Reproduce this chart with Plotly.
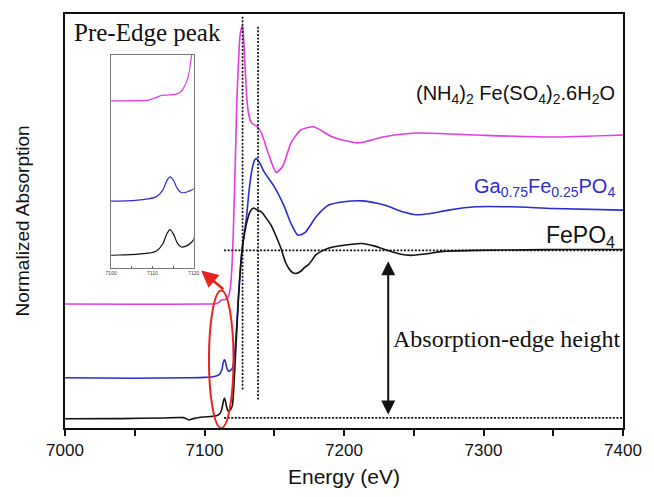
import plotly.graph_objects as go

# ---------------- data ----------------
# FePO4 (normalized absorption, offset 0)
E_fepo4 = [7000, 7040, 7070, 7085, 7089, 7092, 7096, 7100, 7106, 7109, 7111, 7112.5,
           7113.5, 7114.3, 7115.2, 7116, 7117, 7118, 7119, 7120, 7121, 7122.5, 7124.4,
           7126.8, 7128.9, 7131, 7133, 7135, 7137, 7140.8, 7144, 7147.9, 7151, 7154.9,
           7158, 7160.6, 7163, 7165.5, 7169, 7172, 7174.6, 7177, 7179.6, 7184, 7188.7,
           7200, 7212.7, 7222, 7231, 7240, 7248, 7258, 7271, 7294, 7330, 7360, 7400]
mu_fepo4 = [-0.005, -0.004, 0.0, 0.002, -0.012, -0.004, 0.003, 0.006, 0.01, 0.015, 0.025, 0.055,
            0.1, 0.118, 0.095, 0.06, 0.042, 0.045, 0.055, 0.075, 0.18, 0.42, 0.72,
            0.99, 1.11, 1.19, 1.235, 1.253, 1.245, 1.229, 1.195, 1.147, 1.09, 1.01,
            0.93, 0.89, 0.868, 0.862, 0.875, 0.9, 0.915, 0.94, 0.971, 0.995, 1.012,
            1.03, 1.041, 1.025, 1.0, 0.978, 0.97, 0.978, 0.994, 1.0, 1.003, 1.005, 1.005]

# Ga0.75Fe0.25PO4 (normalized absorption)
E_gafe = [7000, 7050, 7090, 7100, 7106, 7109, 7111, 7112.5, 7113.5, 7114.3, 7115.2, 7116,
          7117, 7118, 7119, 7120, 7121, 7122, 7123, 7124, 7125, 7127, 7130, 7132, 7134,
          7136, 7137, 7139, 7143, 7150, 7157, 7162, 7167, 7172, 7180, 7189, 7200, 7213,
          7229, 7242, 7252, 7262, 7275, 7294, 7320, 7350, 7400]
mu_gafe = [0.0, -0.003, 0.0, 0.002, 0.006, 0.012, 0.022, 0.05, 0.092, 0.108, 0.09, 0.058,
           0.04, 0.04, 0.047, 0.056, 0.1, 0.18, 0.3, 0.44, 0.57, 0.77, 0.95, 1.12, 1.24,
           1.3, 1.307, 1.29, 1.225, 1.14, 1.025, 0.92, 0.85, 0.865, 0.96, 1.03, 1.05, 1.055,
           1.03, 0.99, 0.972, 0.98, 1.0, 1.02, 1.02, 1.01, 1.0]

# (NH4)2Fe(SO4)2.6H2O (normalized absorption)
E_mohr = [7000, 7050, 7100, 7109, 7111, 7112.2, 7113.5, 7115.4, 7116.5, 7117.4, 7118.6,
          7119.4, 7120, 7120.9, 7122, 7123.2, 7124.4, 7125.6, 7127.3, 7129.1, 7130.3,
          7131.5, 7133.8, 7137.3, 7140.8, 7145.6, 7151.4, 7156.1, 7162, 7169, 7178.2,
          7191.3, 7209.9, 7228.9, 7252, 7294, 7349, 7400]
mu_mohr = [0.0, -0.002, 0.0, 0.003, 0.015, 0.024, 0.025, 0.028, 0.035, 0.051, 0.1,
           0.185, 0.28, 0.5, 0.82, 1.214, 1.45, 1.61, 1.661, 1.41, 1.234,
           1.138, 1.079, 1.061, 1.02, 0.902, 0.785, 0.822, 0.961, 1.038, 1.057,
           0.998, 0.961, 0.998, 1.02, 1.008, 0.996, 1.008]

# vertical offsets of the stacked spectra
offsets = {"FePO4": 0.0, "GaFe": 0.24, "Mohr": 0.68}

# reference lines
edge_E = [7127.3, 7138.4]            # vertical dotted lines (eV)
edge_span = [[0.17, 2.40], [0.11, 2.335]]
level_E = [7114, 7400]               # horizontal dotted lines span (eV)
levels = [0.0, 1.0]                  # edge step: pre-edge and post-edge level
edge_height_E = 7231.7               # position of the edge-height arrow

x_ticks = [7000, 7100, 7200, 7300, 7400]
inset_ticks = [7100, 7110, 7120]

# ---------------- styles ----------------
PINK = "#e23ce2"
BLUE = "#2b2bd6"
BLACK = "#111111"
RED = "#e8241e"

fig = go.Figure()

series = [
    (E_mohr, mu_mohr, offsets["Mohr"], PINK),
    (E_gafe, mu_gafe, offsets["GaFe"], BLUE),
    (E_fepo4, mu_fepo4, offsets["FePO4"], BLACK),
]

for E, mu, off, col in series:
    y = [v + off for v in mu]
    fig.add_trace(go.Scatter(x=E, y=y, mode="lines", line=dict(color=col, width=1.6, shape="spline", smoothing=0.6),
                             showlegend=False, hoverinfo="skip"))
    # inset (zoom of the pre-edge region)
    fig.add_trace(go.Scatter(x=E, y=y, mode="lines", xaxis="x2", yaxis="y2",
                             line=dict(color=col, width=1.2, shape="spline", smoothing=0.6),
                             showlegend=False, hoverinfo="skip"))

# dotted reference lines
for xe, (y0, y1) in zip(edge_E, edge_span):
    fig.add_trace(go.Scatter(x=[xe, xe], y=[y0, y1], mode="lines",
                             line=dict(color=BLACK, width=1.7, dash="2px,1.6px"),
                             showlegend=False, hoverinfo="skip"))
for lv in levels:
    fig.add_trace(go.Scatter(x=level_E, y=[lv, lv], mode="lines",
                             line=dict(color=BLACK, width=1.7, dash="2px,1.6px"),
                             showlegend=False, hoverinfo="skip"))

# red ellipse around the pre-edge peaks
fig.add_shape(type="circle", xref="x", yref="y", x0=7103.2, x1=7120.8, y0=-0.06, y1=0.76,
              line=dict(color=RED, width=2))

annotations = [
    # red arrow to the inset
    dict(x=7097.6, y=0.88, ax=7114.6, ay=0.76, xref="x", yref="y", axref="x", ayref="y",
         text="", showarrow=True, arrowhead=2, arrowsize=1.3, arrowwidth=2.6, arrowcolor=RED,
         standoff=0, startstandoff=0),
    # double arrow: absorption-edge height
    dict(x=edge_height_E, y=levels[1] - 0.065, ax=edge_height_E, ay=levels[0] + 0.012,
         xref="x", yref="y", axref="x", ayref="y", text="", showarrow=True,
         arrowhead=2, startarrowhead=2, arrowside="end+start", arrowsize=1.4, startarrowsize=1.4,
         arrowwidth=2, arrowcolor=BLACK, standoff=0, startstandoff=0),
    dict(x=0.0123, y=0.955, xref="paper", yref="paper", xanchor="left", yanchor="middle",
         text="Pre-Edge peak", showarrow=False,
         font=dict(family="Liberation Serif", size=25, color=BLACK)),
    dict(x=0.585, y=0.214, xref="paper", yref="paper", xanchor="left", yanchor="middle",
         text="Absorption-edge height", showarrow=False,
         font=dict(family="Liberation Serif", size=24, color=BLACK)),
    dict(x=0.989, y=0.805, xref="paper", yref="paper", xanchor="right", yanchor="middle",
         text="(NH<sub>4</sub>)<sub>2</sub> Fe(SO<sub>4</sub>)<sub>2</sub>.6H<sub>2</sub>O",
         showarrow=False, font=dict(family="Liberation Sans", size=20, color=BLACK)),
    dict(x=0.989, y=0.58, xref="paper", yref="paper", xanchor="right", yanchor="middle",
         text="Ga<sub>0.75</sub>Fe<sub>0.25</sub>PO<sub>4</sub>",
         showarrow=False, font=dict(family="Liberation Sans", size=20, color=BLUE)),
    dict(x=0.989, y=0.462, xref="paper", yref="paper", xanchor="right", yanchor="middle",
         text="FePO<sub>4</sub>",
         showarrow=False, font=dict(family="Liberation Sans", size=23, color=BLACK)),
]

fig.update_layout(
    width=654, height=497,
    margin=dict(l=65, r=20, t=12, b=65),
    paper_bgcolor="white", plot_bgcolor="white",
    font=dict(family="Liberation Sans", color=BLACK),
    annotations=annotations,
    xaxis=dict(range=[7000, 7400], tickvals=x_ticks, ticks="outside", ticklen=6, tickwidth=1.5,
               tickcolor=BLACK, showline=True, linecolor=BLACK, linewidth=2, mirror=True,
               showgrid=False, zeroline=False, tickfont=dict(size=17), ticklabeloverflow="allow",
               minor=dict(dtick=50, ticks="outside", ticklen=6, tickwidth=1.5, tickcolor=BLACK),
               title=dict(text="Energy (eV)", font=dict(size=21), standoff=10)),
    yaxis=dict(range=[-0.06, 2.41], showticklabels=False, ticks="", showline=True, linecolor=BLACK,
               linewidth=2, mirror=True, showgrid=False, zeroline=False,
               title=dict(text="Normalized Absorption", font=dict(size=19), standoff=28)),
    xaxis2=dict(domain=[0.0827, 0.2306], anchor="y2", range=[7100, 7120], tickvals=inset_ticks,
                ticks="inside", ticklen=2, tickwidth=0.8, tickcolor="#666",
                showline=True, linecolor="#777", linewidth=1, mirror=True, showgrid=False,
                zeroline=False, tickfont=dict(size=5, color="#444"),
                minor=dict(dtick=5, ticks="inside", ticklen=2, tickcolor="#666")),
    yaxis2=dict(domain=[0.3857, 0.902], anchor="x2", range=[-0.051, 0.882], showticklabels=False,
                ticks="", showline=True, linecolor="#777", linewidth=1, mirror=True,
                showgrid=False, zeroline=False),
)

fig.write_html("out.html")
